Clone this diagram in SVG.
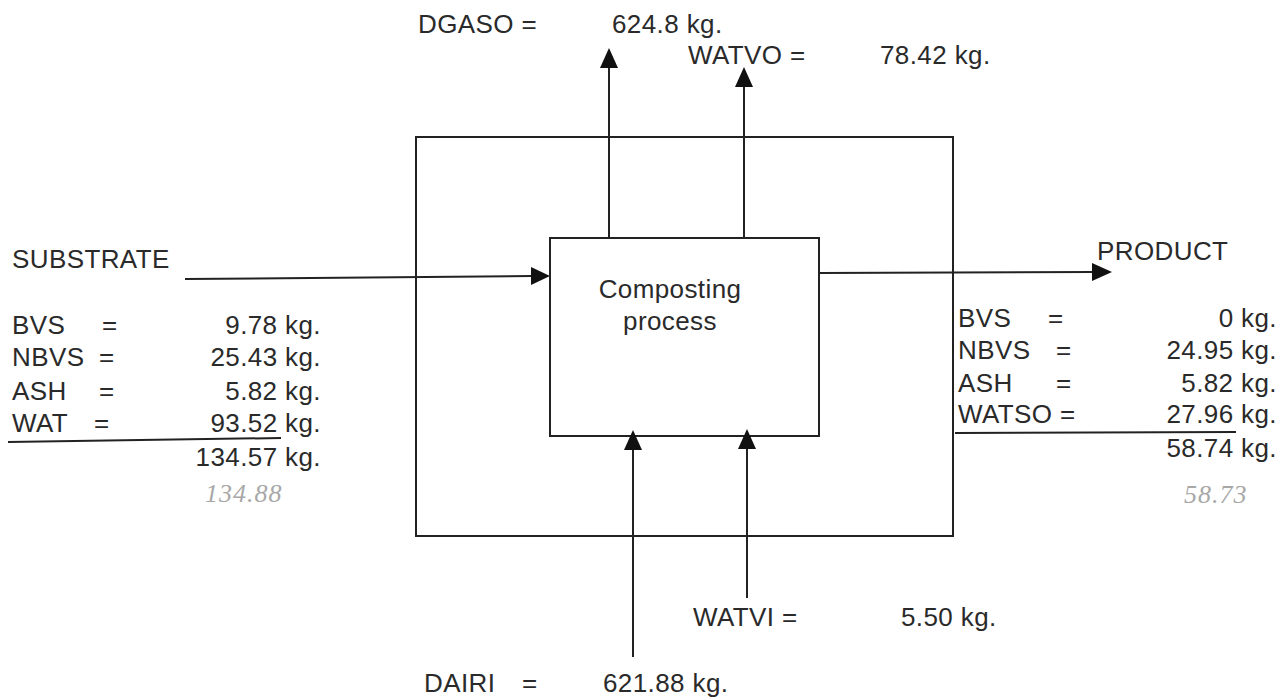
<svg xmlns="http://www.w3.org/2000/svg" width="1287" height="698" viewBox="0 0 1287 698">
<style>
text{font-family:"Liberation Sans",Arial,sans-serif;font-size:26px;letter-spacing:0.4px;fill:#2a2a2a}
.e{text-anchor:end}
.m{text-anchor:middle}
.hw{font-family:"Liberation Serif",serif;font-style:italic;font-size:26px;letter-spacing:1px;fill:#a8a8a8}
line,rect{stroke:#222;stroke-width:2;fill:none}
.h{fill:#111}
</style>
<g id="boundary">
<rect x="416" y="137" width="537" height="399"/>
</g>
<g id="process">
<rect x="550" y="238" width="269" height="198"/>
<text class="m" x="670" y="298">Composting</text>
<text class="m" x="670" y="330">process</text>
</g>
<g id="connectors">
<line x1="185" y1="279" x2="532" y2="276"/>
<path class="h" d="M550,276 L531,267 L531,285 Z"/>
<line x1="819" y1="273" x2="1093" y2="272"/>
<path class="h" d="M1112,272 L1092,263 L1092,281 Z"/>
<line x1="609" y1="238" x2="609" y2="66"/>
<path class="h" d="M609,48 L600,68 L618,68 Z"/>
<line x1="744" y1="238" x2="744" y2="85"/>
<path class="h" d="M744,67 L735,87 L753,87 Z"/>
<line x1="633" y1="657" x2="633" y2="448"/>
<path class="h" d="M633,430 L624,450 L642,450 Z"/>
<line x1="747" y1="598" x2="747" y2="448"/>
<path class="h" d="M747,429 L738,449 L756,449 Z"/>
</g>
<g id="top-labels">
<text x="418" y="33">DGASO =</text>
<text x="612" y="33">624.8 kg.</text>
<text x="688" y="64">WATVO =</text>
<text x="880" y="64">78.42 kg.</text>
</g>
<g id="bottom-labels">
<text x="693" y="626">WATVI  =</text>
<text x="901" y="626">5.50 kg.</text>
<text x="424" y="692">DAIRI</text>
<text x="522" y="692">=</text>
<text x="603" y="692">621.88 kg.</text>
</g>
<g id="substrate">
<text x="12" y="268">SUBSTRATE</text>
<text x="12" y="334">BVS</text><text x="102" y="334">=</text><text class="e" x="321" y="334">9.78 kg.</text>
<text x="12" y="366">NBVS</text><text x="99" y="366">=</text><text class="e" x="321" y="366">25.43 kg.</text>
<text x="12" y="400">ASH</text><text x="99" y="400">=</text><text class="e" x="321" y="400">5.82 kg.</text>
<text x="12" y="432">WAT</text><text x="94" y="432">=</text><text class="e" x="321" y="432">93.52 kg.</text>
<line x1="8" y1="442" x2="281" y2="438"/>
<text class="e" x="321" y="466">134.57 kg.</text>
<text class="hw" x="205" y="502">134.88</text>
</g>
<g id="product">
<text x="1097" y="260">PRODUCT</text>
<text x="958" y="327">BVS</text><text x="1048" y="327">=</text><text class="e" x="1277" y="327">0 kg.</text>
<text x="958" y="359">NBVS</text><text x="1056" y="359">=</text><text class="e" x="1277" y="359">24.95 kg.</text>
<text x="958" y="392">ASH</text><text x="1056" y="392">=</text><text class="e" x="1277" y="392">5.82 kg.</text>
<text x="958" y="423">WATSO =</text><text class="e" x="1277" y="423">27.96 kg.</text>
<line x1="955" y1="433" x2="1236" y2="432"/>
<text class="e" x="1277" y="457">58.74 kg.</text>
<text class="hw" x="1184" y="503">58.73</text>
</g>
</svg>
